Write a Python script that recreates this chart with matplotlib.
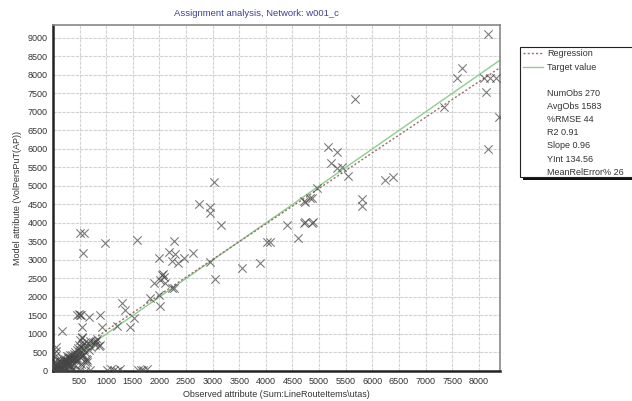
import numpy as np
import matplotlib
matplotlib.use('Agg')
import matplotlib.pyplot as plt
from matplotlib.patches import Rectangle
from matplotlib.lines import Line2D

plt.rcParams['font.family'] = ['Liberation Sans', 'DejaVu Sans']

## observed vs model values

# spread-out points
obs_far = [8170, 7690, 7583, 8100, 8210, 8333, 8146, 7345, 8383, 8177, 5675,
           5175, 5344, 5220, 5332, 5437, 5550, 6238, 6383, 4956, 5800, 5800,
           4737, 4862, 4737, 4880, 4718, 4831, 3017, 2735, 2955, 2955, 3155,
           4394, 4724, 4874, 4612, 4019, 4080, 3893, 3561, 2955, 3049, 2266,
           2629, 2173, 2298, 2454, 2235, 2341, 1985, 2048, 2079, 2017, 2110,
           2235, 1891, 1829, 1985, 2004, 2060, 2280]
mod_far = [9110, 8180, 7910, 7910, 7910, 7910, 7550, 7127, 6857, 5992, 7351,
           6046, 5927, 5630, 5478, 5522, 5270, 5162, 5251, 4937, 4650, 4468,
           4576, 4668, 4035, 4035, 4603, 4667, 5116, 4505, 4440, 4262, 3938,
           3946, 3991, 4008, 3586, 3495, 3495, 2911, 2776, 2954, 2476, 3514,
           3197, 3216, 3170, 3063, 2973, 2910, 3045, 2595, 2548, 2459, 2370,
           2235, 2370, 1965, 2054, 1757, 2620, 2250]

# middle band
obs_mid = [516, 578, 566, 985, 1580, 1298, 1360, 1205, 1454, 1516, 891, 923,
           672, 454, 516, 547, 172, 829, 860, 547, 641, 797, 891, 480, 530,
           1016, 1140, 1266, 1604, 1767, 1090, 1700, 1200, 1650]
mod_mid = [3720, 3720, 3180, 3450, 3540, 1846, 1649, 1216, 1198, 1424, 1514,
           1198, 1468, 1514, 1514, 1198, 1081, 857, 676, 930, 297, 790, 703,
           1540, 1500, 40, 30, 45, 35, 50, 60, 20, 10, 25]

# dense cluster near the origin
obs_near = [10, 15, 20, 25, 30, 35, 40, 45, 50, 55, 60, 70, 75, 80, 90, 100,
            100, 110, 120, 130, 140, 150, 150, 160, 170, 180, 190, 200, 200,
            210, 220, 230, 240, 250, 250, 260, 270, 280, 290, 300, 300, 310,
            320, 330, 340, 350, 360, 370, 380, 390, 400, 400, 410, 420, 430,
            440, 450, 460, 470, 480, 490, 500, 500, 510, 520, 530, 540, 550,
            560, 570, 580, 590, 600, 620, 640, 660, 680, 700, 720, 750, 780,
            800, 100, 200, 280, 350, 430, 510, 600, 700, 20, 60, 130, 240, 330,
            420, 610, 30, 80, 170, 260, 360, 450, 540, 640]
mod_near = [30, 120, 60, 250, 10, 400, 90, 180, 20, 550, 140, 40, 300, 70, 200,
            20, 110, 260, 50, 160, 90, 230, 20, 350, 120, 60, 200, 280, 150,
            30, 330, 210, 180, 270, 80, 400, 300, 220, 350, 250, 380, 160, 430,
            290, 340, 60, 420, 300, 360, 450, 200, 320, 500, 380, 260, 420,
            560, 350, 620, 470, 700, 380, 850, 560, 180, 650, 480, 900, 700,
            420, 600, 760, 520, 330, 680, 760, 560, 800, 640, 780, 700, 820,
            5, 10, 5, 15, 10, 20, 10, 30, 480, 650, 30, 100, 130, 320, 240,
            150, 20, 280, 220, 190, 310, 400, 230]

obs = np.array(obs_far + obs_mid + obs_near)
mod = np.array(mod_far + mod_mid + mod_near)

# statistics shown in the box
slope = 0.96
yint = 134.56
stats = ['NumObs 270', 'AvgObs 1583', '%RMSE 44', 'R2 0.91', 'Slope 0.96',
         'YInt 134.56', 'MeanRelError% 26']

xmax = 8400
ymax = 9350

W, H = 632, 401
fig = plt.figure(figsize=(W/100, H/100), dpi=100)
ax = fig.add_axes([53/W, 1 - 371/H, 447/W, 346/H])

ax.set_xlim(0, xmax)
ax.set_ylim(0, ymax)
ax.set_xticks(np.arange(500, 8001, 500))
ax.set_yticks(np.arange(0, 9001, 500))
ax.grid(True, color='#d2d2d2', lw=0.8, ls=(0, (3, 1)))
ax.set_axisbelow(True)
ax.tick_params(length=0, labelsize=6.5, labelcolor='#333333', pad=4)

for s in ['left', 'bottom']:
    ax.spines[s].set_color('#222222')
    ax.spines[s].set_linewidth(1.8)
for s in ['top', 'right']:
    ax.spines[s].set_color('#888888')
    ax.spines[s].set_linewidth(1.2)

xs = np.array([0, xmax])
ax.plot(xs, xs, color='#8ccf8c', lw=1.0, zorder=2)
ax.plot(xs, slope*xs + yint, color='#9a6e6e', lw=1.0, ls=(0, (1.5, 1.5)), zorder=3)

ax.scatter(obs, mod, marker='x', s=36, linewidths=0.8, color='#444444',
           alpha=0.7, zorder=4)

ax.set_xlabel('Observed attribute (Sum:LineRouteItems\\utas)', fontsize=6.5,
              color='#333333', labelpad=3)
ax.set_ylabel('Model attribute (VolPersPuT(AP))', fontsize=6.5,
              color='#333333', labelpad=4)
fig.text(256/W, 1 - 14/H, 'Assignment analysis, Network: w001_c', fontsize=6.8,
         color='#404090', ha='center', va='center')

# legend box, drawn in pixel units
def px(x, y):
    return x/W, 1 - y/H

fig.patches.append(Rectangle(px(523, 180), 130/W, 130/H, transform=fig.transFigure,
                             facecolor='#111111', edgecolor='none', zorder=1))
fig.patches.append(Rectangle(px(520, 177), 130/W, 130/H, transform=fig.transFigure,
                             facecolor='white', edgecolor='#222222', lw=0.8, zorder=2))

x0, x1 = px(523, 0)[0], px(543, 0)[0]
y_reg = px(0, 53)[1]
y_tar = px(0, 67)[1]
fig.lines.append(Line2D([x0, x1], [y_reg, y_reg], transform=fig.transFigure,
                        color='#9a6e6e', lw=1.0, ls=(0, (1.5, 1.5)), zorder=3))
fig.lines.append(Line2D([x0, x1], [y_tar, y_tar], transform=fig.transFigure,
                        color='#8ccf8c', lw=1.0, zorder=3))
fig.text(547/W, y_reg, 'Regression', fontsize=6.5, color='#333333', va='center', zorder=4)
fig.text(547/W, y_tar, 'Target value', fontsize=6.5, color='#333333', va='center', zorder=4)
for i, s in enumerate(stats):
    fig.text(547/W, px(0, 93 + 13.2*i)[1], s, fontsize=6.5, color='#333333',
             va='center', zorder=4)

fig.savefig('out.png', dpi=100)
